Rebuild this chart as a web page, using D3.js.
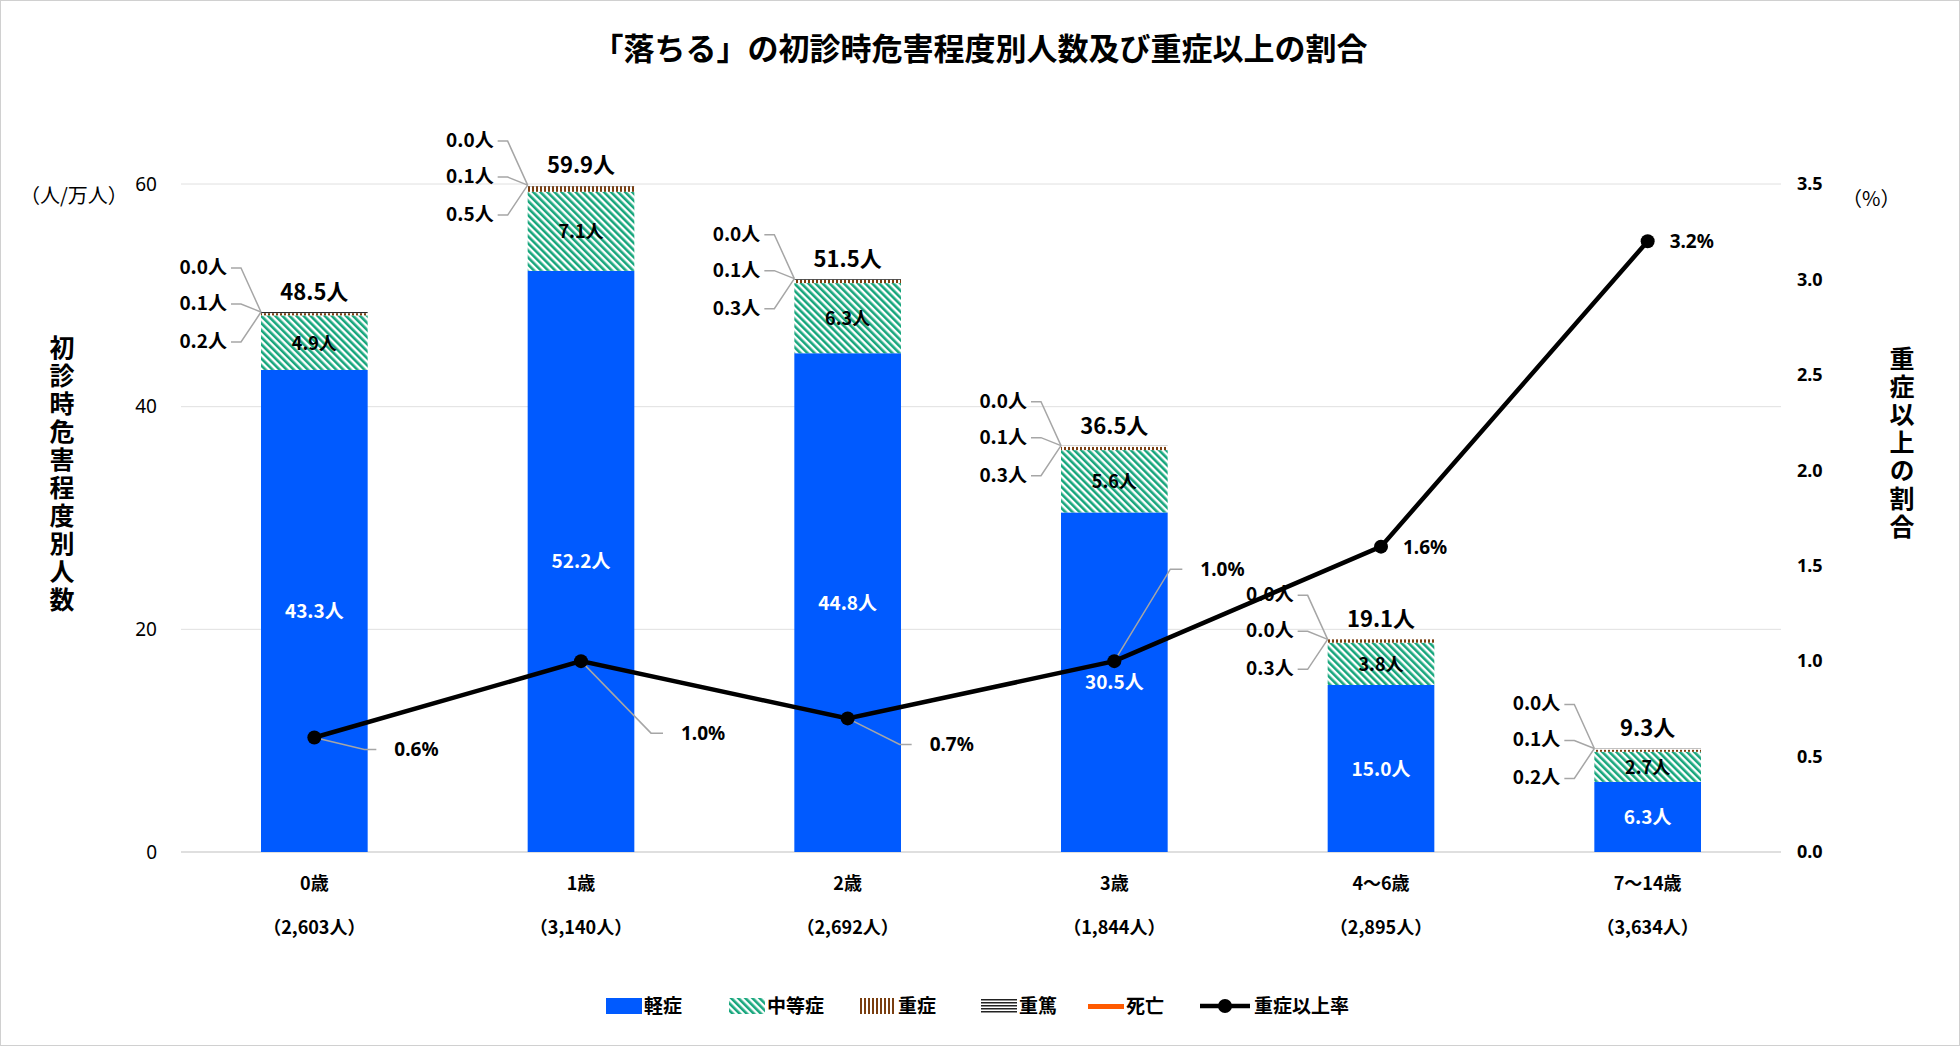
<!DOCTYPE html>
<html><head><meta charset="utf-8">
<script src="https://cdn.jsdelivr.net/npm/d3@7"></script>
<style>body{margin:0;background:#fff}svg{font-family:"Noto Sans CJK JP","Noto Sans",sans-serif}</style>
</head><body><svg id="c" width="1960" height="1046"></svg>
<script>
var categories = ["0歳","1歳","2歳","3歳","4～6歳","7～14歳"];
var counts = ["（2,603人）","（3,140人）","（2,692人）","（1,844人）","（2,895人）","（3,634人）"];
var mild = [43.3,52.2,44.8,30.5,15.0,6.3];
var moderate = [4.9,7.1,6.3,5.6,3.8,2.7];
var severe = [0.2,0.5,0.3,0.3,0.3,0.2];
var critical = [0.1,0.1,0.1,0.1,0.0,0.1];
var death = [0.0,0.0,0.0,0.0,0.0,0.0];
var totals = [48.5,59.9,51.5,36.5,19.1,9.3];
var rate = [0.6,1.0,0.7,1.0,1.6,3.2];
var leftTicks = [0,20,40,60];
var rightTicks = [0,0.5,1,1.5,2,2.5,3,3.5];

var svg = d3.select("#c");
var defs = svg.append("defs");
var p1 = defs.append("pattern").attr("id","hatch").attr("width",5).attr("height",5)
  .attr("patternUnits","userSpaceOnUse").attr("patternTransform","rotate(-45)");
p1.append("rect").attr("width",5).attr("height",5).attr("fill","#fff");
p1.append("rect").attr("width",2.6).attr("height",5).attr("fill","#17a67c");
var p2 = defs.append("pattern").attr("id","vstripe").attr("width",4).attr("height",4).attr("patternUnits","userSpaceOnUse");
p2.append("rect").attr("width",4).attr("height",4).attr("fill","#fff");
p2.append("rect").attr("width",2).attr("height",4).attr("fill","#7a3e10");
var p3 = defs.append("pattern").attr("id","hstripe").attr("width",4).attr("height",3).attr("patternUnits","userSpaceOnUse");
p3.append("rect").attr("width",4).attr("height",3).attr("fill","#fff");
p3.append("rect").attr("width",4).attr("height",1.5).attr("fill","#222");

svg.append("rect").attr("x",0.5).attr("y",0.5).attr("width",1959).attr("height",1045).attr("fill","#fff").attr("stroke","#d0d0d0");

var L = 181, R = 1781, T = 184, B = 852;
var x = d3.scaleBand().domain(categories).range([L,R]).paddingInner(0.6).paddingOuter(0.3);
var y = d3.scaleLinear().domain([0,60]).range([B,T]);
var y2 = d3.scaleLinear().domain([0,3.5]).range([B,T]);

svg.append("text").attr("x",980).attr("y",60).attr("text-anchor","middle").attr("font-size",31).attr("font-weight","bold").text("「落ちる」の初診時危害程度別人数及び重症以上の割合");

// grid
svg.append("g").selectAll("line").data(leftTicks).join("line")
  .attr("x1",L).attr("x2",R).attr("y1",d=>y(d)).attr("y2",d=>y(d))
  .attr("stroke",d=>d===0?"#bfbfbf":"#e0e0e0");

var gl = svg.append("g").attr("transform","translate("+L+",0)").call(d3.axisLeft(y).tickValues(leftTicks).tickSize(0).tickPadding(24));
gl.select(".domain").remove();
gl.selectAll("text").attr("font-size",19).attr("font-family","Noto Sans");
var gr = svg.append("g").attr("transform","translate("+R+",0)").call(d3.axisRight(y2).tickValues(rightTicks).tickSize(0).tickPadding(16).tickFormat(d3.format(".1f")));
gr.select(".domain").remove();
gr.selectAll("text").attr("font-size",18).attr("font-weight","bold").attr("font-family","Noto Sans");

svg.append("text").attr("x",20).attr("y",203).attr("font-size",20).text("（人/万人）");
svg.append("text").attr("x",1842).attr("y",206).attr("font-size",20).text("（%）");
svg.append("text").attr("x",62).attr("y",475).attr("text-anchor","middle").attr("font-size",25).attr("font-weight","bold").attr("letter-spacing",3)
  .style("writing-mode","vertical-rl").text("初診時危害程度別人数");
svg.append("text").attr("x",1902).attr("y",444).attr("text-anchor","middle").attr("font-size",25).attr("font-weight","bold").attr("letter-spacing",3)
  .style("writing-mode","vertical-rl").text("重症以上の割合");

// stacked bars
var series = [
  {key:"軽症", vals:mild, fill:"#005aff"},
  {key:"中等症", vals:moderate, fill:"url(#hatch)"},
  {key:"重症", vals:severe, fill:"url(#vstripe)"},
  {key:"重篤", vals:critical, fill:"url(#hstripe)"},
  {key:"死亡", vals:death, fill:"#ff5a00"}
];
var bars = svg.append("g");
categories.forEach(function(c,i){
  var base = 0;
  series.forEach(function(s){
    var v = s.vals[i];
    bars.append("rect").attr("x",x(c)).attr("width",x.bandwidth())
      .attr("y",y(base+v)).attr("height",Math.max(0,y(base)-y(base+v))).attr("fill",s.fill);
    base += v;
  });
  var cx = x(c)+x.bandwidth()/2;
  svg.append("text").attr("x",cx).attr("y",y(mild[i]/2)+7).attr("text-anchor","middle").attr("fill","#fff").attr("font-size",19).attr("font-weight","bold").text(mild[i].toFixed(1)+"人");
  svg.append("text").attr("x",cx).attr("y",y(mild[i]+moderate[i]/2)+7).attr("text-anchor","middle").attr("font-size",18).attr("font-weight","bold").text(moderate[i].toFixed(1)+"人");
  svg.append("text").attr("x",cx).attr("y",y(totals[i])-12).attr("text-anchor","middle").attr("font-size",22).attr("font-weight","bold").text(totals[i].toFixed(1)+"人");
  // callouts for small segments
  var tx = x(c), ty = y(totals[i]);
  var small = [death[i],critical[i],severe[i]];
  var offs = [-38,-2,36];
  small.forEach(function(v,j){
    var ly = ty+offs[j];
    svg.append("polyline").attr("points",[[tx-30,ly-6],[tx-20,ly-6],[tx,ty]].join(" ")).attr("fill","none").attr("stroke","#a6a6a6").attr("stroke-width",1.5);
    svg.append("text").attr("x",tx-34).attr("y",ly).attr("text-anchor","end").attr("font-size",19).attr("font-weight","bold").text(v.toFixed(1)+"人");
  });
  svg.append("text").attr("x",cx).attr("y",890).attr("text-anchor","middle").attr("font-size",18).attr("font-weight","bold").text(c);
  svg.append("text").attr("x",cx).attr("y",934).attr("text-anchor","middle").attr("font-size",18).attr("font-weight","bold").text(counts[i]);
});

// rate line
var line = d3.line().x((d,i)=>x(categories[i])+x.bandwidth()/2).y(d=>y2(d));
svg.append("path").datum(rate).attr("d",line).attr("fill","none").attr("stroke","#000").attr("stroke-width",4.5);
var rlab = [[50,12,1],[70,72,1],[52,26,1],[56,-92,1],[22,0,0],[22,0,0]];
rate.forEach(function(v,i){
  var px = x(categories[i])+x.bandwidth()/2, py = y2(v), o = rlab[i];
  if(o[2]) svg.append("polyline").attr("points",[[px,py],[px+o[0],py+o[1]],[px+o[0]+12,py+o[1]]].join(" ")).attr("fill","none").attr("stroke","#a6a6a6").attr("stroke-width",1.5);
  svg.append("text").attr("x",px+o[0]+(o[2]?30:0)).attr("y",py+o[1]+7).attr("font-size",19).attr("font-family","Noto Sans").attr("font-weight","bold").text(v.toFixed(1)+"%");
  svg.append("circle").attr("cx",px).attr("cy",py).attr("r",7).attr("fill","#000");
});

// legend
var lx = [606,729,860,981,1088];
series.forEach(function(s,i){
  svg.append("rect").attr("x",lx[i]).attr("y",s.key==="死亡"?1004:998).attr("width",36).attr("height",s.key==="死亡"?5:16).attr("fill",s.fill);
  svg.append("text").attr("x",lx[i]+38).attr("y",1013).attr("font-size",19).attr("font-weight","bold").text(s.key);
});
svg.append("line").attr("x1",1200).attr("x2",1250).attr("y1",1006).attr("y2",1006).attr("stroke","#000").attr("stroke-width",4.5);
svg.append("circle").attr("cx",1225).attr("cy",1006).attr("r",7);
svg.append("text").attr("x",1254).attr("y",1013).attr("font-size",19).attr("font-weight","bold").text("重症以上率");
</script></body></html>
